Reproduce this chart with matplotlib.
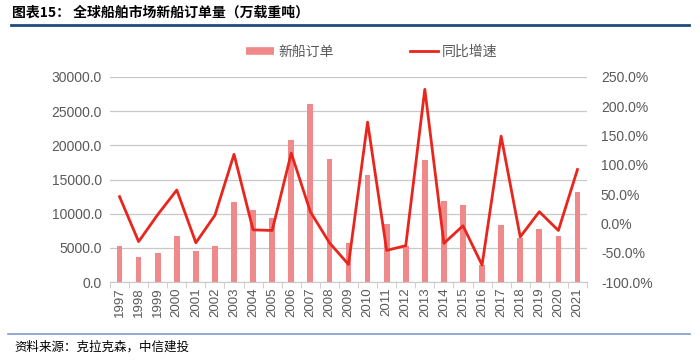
import matplotlib
matplotlib.use("Agg")
import matplotlib.pyplot as plt
from matplotlib.ticker import FuncFormatter, FixedLocator
from matplotlib.lines import Line2D
import numpy as np

plt.rcParams['font.family'] = ['Liberation Sans', 'Noto Sans CJK SC', 'DejaVu Sans']

years = [str(y) for y in range(1997, 2022)]
orders = [5200, 3700, 4300, 6800, 4600, 5300, 11700, 10500, 9400, 20800,
          26000, 18000, 5700, 15600, 8500, 5300, 17800, 11800, 11300, 2500,
          8300, 6400, 7700, 6800, 13200]
growth = [45.7, -31, 15, 57, -33, 14, 118, -11, -12, 120,
          20, -33, -70, 173, -46, -38, 229, -34, -4, -71,
          149, -23, 20, -12, 92]

title = "图表15： 全球船舶市场新船订单量（万载重吨）"
source = "资料来源：克拉克森，中信建投"
bar_label = "新船订单"
line_label = "同比增速"

bar_color = '#F08A8A'
line_color = '#E8261E'

fig = plt.figure(figsize=(7.0, 3.62), dpi=100)
ax = fig.add_axes([110/700, 1-282/362, (587-110)/700, (282-77)/362])
ax2 = ax.twinx()

x = np.arange(len(years))
ax.bar(x, orders, width=0.3, color=bar_color, zorder=2, label=bar_label)
ax2.plot(x, growth, color=line_color, lw=2.0, zorder=3, label=line_label)

ax.set_xlim(-0.5, len(years) - 0.5)
ax.set_ylim(0, 30000)
ax2.set_ylim(-100, 250)
ax.set_yticks(np.arange(0, 30001, 5000))
ax2.set_yticks(np.arange(-100, 251, 50))
ax.yaxis.set_major_formatter(FuncFormatter(lambda v, p: f"{v:.1f}"))
ax2.yaxis.set_major_formatter(FuncFormatter(lambda v, p: f"{v:.1f}%"))

ax.grid(axis='y', color='#C8C8C8', lw=0.9, zorder=0)
ax.set_axisbelow(True)
for a in (ax, ax2):
    for s in ('top', 'left', 'right'):
        a.spines[s].set_visible(False)
    a.spines['bottom'].set_color('#C8C8C8')
ax2.spines['bottom'].set_visible(False)

ax.set_xticks(x)
ax.set_xticklabels(years, rotation=90, fontsize=9.5, color='#595959')
ax.tick_params(axis='x', which='major', length=0, pad=4)
ax.xaxis.set_minor_locator(FixedLocator(np.arange(-0.5, len(years), 1.0)))
ax.tick_params(axis='x', which='minor', length=4, color='#C8C8C8')
ax.tick_params(axis='y', length=0, labelsize=10, labelcolor='#595959', pad=6)
ax2.tick_params(axis='y', length=0, labelsize=10, labelcolor='#595959', pad=10)

h_bar = Line2D([], [], color=bar_color, lw=5.5, solid_capstyle='butt')
h_line = Line2D([], [], color=line_color, lw=2.0)
leg = fig.legend(handles=[h_bar, h_line], labels=[bar_label, line_label],
                 loc='center', bbox_to_anchor=(372/700, 1-52/362), ncol=2,
                 frameon=False, handlelength=2.0, columnspacing=5.5,
                 handletextpad=0.3,
                 prop={'family': ['Noto Sans CJK SC'], 'size': 10})
for t in leg.get_texts():
    t.set_color('#595959')

fig.text(12/700, 1-13/362, title, fontsize=10, fontweight='bold',
         family=['Noto Sans CJK SC'], va='center', ha='left', color='black')
fig.add_artist(Line2D([11/700, 689/700], [1-25/362, 1-25/362],
                      color='#1F4A7D', lw=2.0, transform=fig.transFigure))
fig.add_artist(Line2D([8/700, 690/700], [1-334/362, 1-334/362],
                      color='#7F9CC8', lw=1.2, transform=fig.transFigure))
fig.text(14/700, 1-347/362, source, fontsize=9, style='italic',
         family=['Noto Sans CJK SC'], va='center', ha='left', color='black')

fig.savefig("out.png", dpi=100)
